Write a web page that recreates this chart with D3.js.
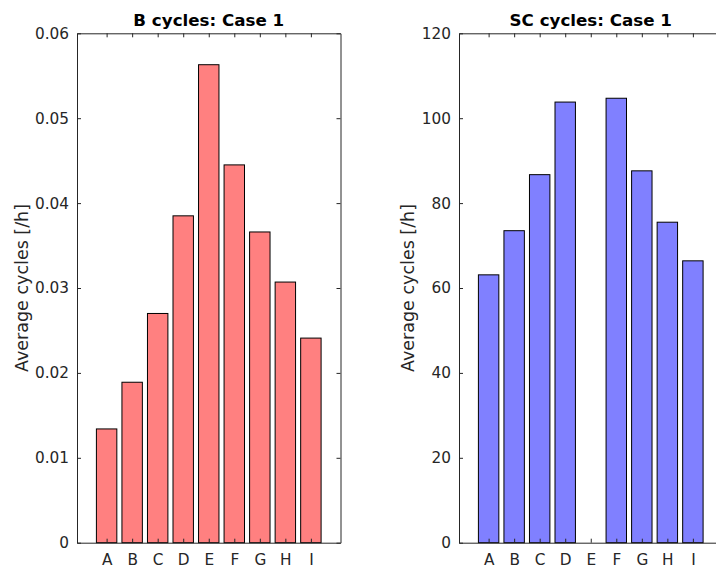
<!DOCTYPE html>
<html>
<head>
<meta charset="utf-8">
<script src="https://cdn.jsdelivr.net/npm/d3@7"></script>
<style>
  body { margin: 0; background: #fff; }
  svg { display: block; font-family: "DejaVu Sans", sans-serif; }
</style>
</head>
<body>
<svg id="chart" width="716" height="569"></svg>
<script>
// categories shared by both panels
const categories = ["A", "B", "C", "D", "E", "F", "G", "H", "I"];

// B cycles per hour, case 1
const bCycles = [0.0134, 0.0189, 0.0270, 0.0385, 0.0563, 0.0445, 0.0366, 0.0307, 0.0241];
const bTicks = [0, 0.01, 0.02, 0.03, 0.04, 0.05, 0.06];

// SC cycles per hour, case 1 (E has no bar)
const scCycles = [63.1, 73.5, 86.7, 103.8, null, 104.7, 87.6, 75.5, 66.4];
const scTicks = [0, 20, 40, 60, 80, 100, 120];

const svg = d3.select("#chart");
const axisColor = "#262626";
const font = "DejaVu Sans, sans-serif";

function drawPanel(cfg) {
  const left = cfg.left, top = 33.3, width = 263.5, height = 509.4;
  const g = svg.append("g").attr("transform", `translate(${left},${top})`);

  // bar centres at 1..9, axis spans a bit more than one slot each side
  const x = d3.scaleLinear().domain([-0.16, 10.16]).range([0, width]);
  const y = d3.scaleLinear().domain([cfg.ticks[0], cfg.ticks[cfg.ticks.length - 1]]).range([height, 0]);
  const slot = x(2) - x(1);
  const barW = slot * 0.8;

  const rows = categories.map((c, i) => ({ cat: c, pos: i + 1, value: cfg.values[i] }));

  g.selectAll("rect.bar")
    .data(rows.filter(d => d.value != null))
    .join("rect")
    .attr("class", "bar")
    .attr("x", d => x(d.pos) - barW / 2)
    .attr("width", barW)
    .attr("y", d => y(d.value))
    .attr("height", d => y(0) - y(d.value))
    .attr("fill", cfg.color)
    .attr("stroke", "#000")
    .attr("stroke-width", 1);

  // axes: ticks pointing in, box all round
  const tickVals = categories.map((c, i) => i + 1);
  const xBottom = d3.axisBottom(x).tickValues(tickVals).tickFormat((d, i) => categories[i])
    .tickSizeInner(-4).tickSizeOuter(0).tickPadding(11);
  const xTop = d3.axisTop(x).tickValues(tickVals).tickFormat("").tickSizeInner(-4).tickSizeOuter(0);
  const yLeft = d3.axisLeft(y).tickValues(cfg.ticks).tickFormat(cfg.fmt)
    .tickSizeInner(-4).tickSizeOuter(0).tickPadding(8);
  const yRight = d3.axisRight(y).tickValues(cfg.ticks).tickFormat("").tickSizeInner(-4).tickSizeOuter(0);

  const axes = [
    g.append("g").attr("transform", `translate(0,${height})`).call(xBottom),
    g.append("g").call(xTop),
    g.append("g").call(yLeft),
    g.append("g").attr("transform", `translate(${width},0)`).call(yRight)
  ];
  axes.forEach(a => {
    a.selectAll("path.domain").attr("stroke", axisColor);
    a.selectAll(".tick line").attr("stroke", axisColor);
    a.selectAll(".tick text").attr("fill", axisColor).style("font-size", "15.3px")
      .style("font-family", font);
  });

  // Title
  svg.append("text")
    .attr("x", left + width / 2)
    .attr("y", 26)
    .attr("text-anchor", "middle")
    .attr("fill", "#000")
    .style("font-family", font)
    .style("font-size", "16.7px")
    .style("font-weight", "bold")
    .text(cfg.title);

  // Y axis label
  svg.append("text")
    .attr("transform", `translate(${cfg.labelX},${top + height / 2}) rotate(-90)`)
    .attr("text-anchor", "middle")
    .attr("dy", "0.35em")
    .attr("fill", axisColor)
    .style("font-family", font)
    .style("font-size", "17.5px")
    .text("Average cycles [/h]");
}

drawPanel({ left: 77, values: bCycles, ticks: bTicks, fmt: d => d === 0 ? "0" : d3.format(".2f")(d),
  color: "#ff8080", title: "B cycles: Case 1", labelX: 22 });
drawPanel({ left: 459, values: scCycles, ticks: scTicks, fmt: d => d,
  color: "#8080ff", title: "SC cycles: Case 1", labelX: 408 });
</script>
</body>
</html>
